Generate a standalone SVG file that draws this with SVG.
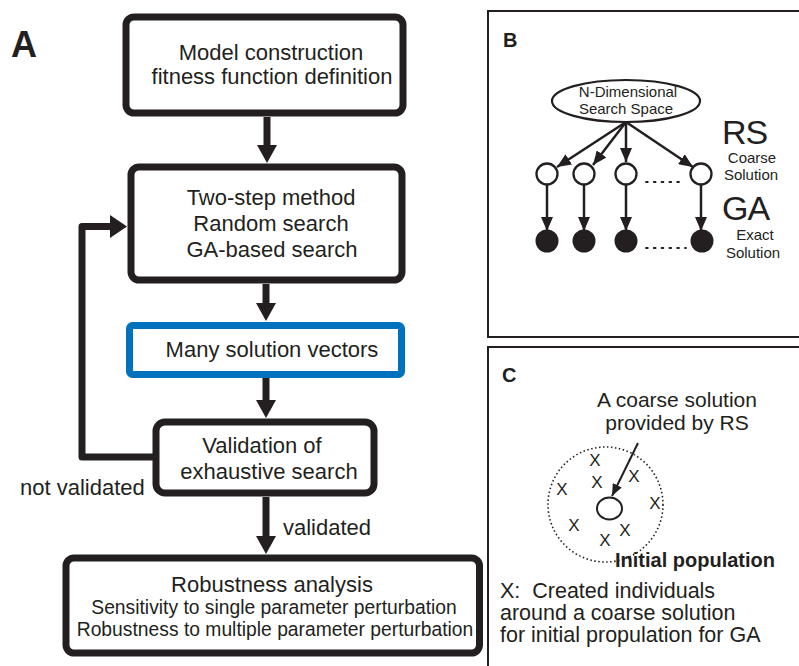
<svg xmlns="http://www.w3.org/2000/svg" width="799" height="666" viewBox="0 0 799 666">
<defs>
<style>
.box{fill:#fff;stroke:#231f20;stroke-width:7}
.blue{fill:#fff;stroke:#0071bc;stroke-width:7}
.t{font-family:"Liberation Sans",Arial,sans-serif;fill:#231f20;text-anchor:middle}
.tl{font-family:"Liberation Sans",Arial,sans-serif;fill:#231f20}
.b{font-weight:bold}
.shaft{stroke:#231f20;stroke-width:7;fill:none}
.head{fill:#231f20}
.thin{stroke:#231f20;stroke-width:2.5;fill:none}
.panel{fill:none;stroke:#231f20;stroke-width:2}
.dots{stroke:#231f20;stroke-width:1.8;stroke-dasharray:1.8 6;stroke-linecap:round;fill:none}
</style>
<marker id="ah" viewBox="0 0 14 12" refX="14" refY="6" markerWidth="14" markerHeight="12" markerUnits="userSpaceOnUse" orient="auto">
<path d="M0,0 L14,6 L0,12 z" fill="#231f20"/>
</marker>
<marker id="ahs" viewBox="0 0 12 10" refX="12" refY="5" markerWidth="12" markerHeight="10" markerUnits="userSpaceOnUse" orient="auto">
<path d="M0,0 L12,5 L0,10 z" fill="#231f20"/>
</marker>
</defs>
<rect width="799" height="666" fill="#fff"/>

<text class="tl b" x="11" y="57" font-size="36">A</text>

<g id="connectors">
<line class="shaft" x1="267" y1="117" x2="267" y2="147"/>
<polygon class="head" points="257,145 277,145 267,163"/>
<line class="shaft" x1="266" y1="284" x2="266" y2="305"/>
<polygon class="head" points="256,303 276,303 266,321"/>
<line class="shaft" x1="266" y1="378" x2="266" y2="402"/>
<polygon class="head" points="256,400 276,400 266,418"/>
<line class="shaft" x1="266" y1="497" x2="266" y2="538"/>
<polygon class="head" points="256,536 276,536 266,554"/>
<path class="shaft" d="M153,457 H82 V226.5 H112" stroke-linejoin="round"/>
<polygon class="head" points="110,215 110,238 127,226.5"/>
<text class="tl" x="20" y="495" font-size="22">not validated</text>
<text class="tl" x="283" y="535" font-size="22">validated</text>
</g>

<g id="model">
<rect class="box" x="126" y="17" width="277" height="96" rx="8"/>
<text class="t" x="271" y="60" font-size="22">Model construction</text>
<text class="t" x="272" y="84" font-size="22">fitness function definition</text>
</g>

<g id="twostep">
<rect class="box" x="131" y="167" width="271" height="113" rx="8"/>
<text class="t" x="271" y="205" font-size="22">Two-step method</text>
<text class="t" x="271" y="231" font-size="22">Random search</text>
<text class="t" x="272" y="257" font-size="22">GA-based search</text>
</g>

<g id="vectors">
<rect class="blue" x="129.5" y="325.5" width="272" height="49" rx="3"/>
<text class="t" x="272" y="357" font-size="22">Many solution vectors</text>
</g>

<g id="validation">
<rect class="box" x="156" y="422" width="218" height="71" rx="9"/>
<text class="t" x="262" y="453" font-size="22">Validation of</text>
<text class="t" x="269" y="479" font-size="22">exhaustive search</text>
</g>

<g id="robustness">
<rect class="box" x="66" y="558" width="413.5" height="95" rx="8"/>
<text class="t" x="272" y="592" font-size="22">Robustness analysis</text>
<text class="t" x="274" y="614" font-size="19.3">Sensitivity to single parameter perturbation</text>
<text class="t" x="275" y="636" font-size="19.3">Robustness to multiple parameter perturbation</text>
</g>

<g id="panelB">
<path class="panel" d="M805,11 H488 V337 H805"/>
<text class="tl b" x="503" y="47" font-size="20">B</text>
<g id="searchspace">
<ellipse cx="626" cy="101" rx="74" ry="21" fill="#fff" stroke="#231f20" stroke-width="2.2"/>
<text class="t" x="628" y="97" font-size="15">N-Dimensional</text>
<text class="t" x="626" y="114" font-size="15">Search Space</text>
</g>
<g id="b-arrows">
<line class="thin" x1="626" y1="122" x2="557" y2="167" marker-end="url(#ah)"/>
<line class="thin" x1="626" y1="122" x2="593" y2="165" marker-end="url(#ah)"/>
<line class="thin" x1="626" y1="122" x2="626" y2="162" marker-end="url(#ah)"/>
<line class="thin" x1="626" y1="122" x2="693" y2="167" marker-end="url(#ah)"/>
<line class="thin" x1="547" y1="185" x2="547" y2="231" marker-end="url(#ah)"/>
<line class="thin" x1="584" y1="185" x2="584" y2="231" marker-end="url(#ah)"/>
<line class="thin" x1="626" y1="185" x2="626" y2="231" marker-end="url(#ah)"/>
<line class="thin" x1="701" y1="185" x2="701" y2="231" marker-end="url(#ah)"/>
<line class="dots" x1="646" y1="182" x2="684" y2="182"/>
<line class="dots" x1="646" y1="248" x2="686" y2="248"/>
</g>
<g id="coarse">
<circle cx="547" cy="174" r="10.5" fill="#fff" stroke="#231f20" stroke-width="2.3"/>
<circle cx="584" cy="174" r="10.5" fill="#fff" stroke="#231f20" stroke-width="2.3"/>
<circle cx="626" cy="174" r="10.5" fill="#fff" stroke="#231f20" stroke-width="2.3"/>
<circle cx="701" cy="174" r="10.5" fill="#fff" stroke="#231f20" stroke-width="2.3"/>
</g>
<g id="exact">
<circle cx="547" cy="241" r="11.5" fill="#231f20"/>
<circle cx="584" cy="241" r="11.5" fill="#231f20"/>
<circle cx="626" cy="241" r="11.5" fill="#231f20"/>
<circle cx="702" cy="241" r="11.5" fill="#231f20"/>
</g>
<text class="tl" x="722" y="144" font-size="34" letter-spacing="-1">RS</text>
<text class="t" x="752" y="163" font-size="15">Coarse</text>
<text class="t" x="751" y="180" font-size="15">Solution</text>
<text class="tl" x="722" y="220" font-size="34" letter-spacing="-1">GA</text>
<text class="t" x="755" y="240" font-size="15">Exact</text>
<text class="t" x="753" y="258" font-size="15">Solution</text>
</g>

<g id="panelC">
<path class="panel" d="M805,347 H488 V670"/>
<text class="tl b" x="502" y="382" font-size="20">C</text>
<text class="t" x="677" y="407" font-size="21">A coarse solution</text>
<text class="t" x="677" y="430" font-size="21">provided by RS</text>
<circle cx="605.5" cy="504.5" r="57.5" fill="none" stroke="#231f20" stroke-width="1.6" stroke-dasharray="1.5 2.5"/>
<ellipse cx="609.5" cy="508.5" rx="12.5" ry="11" fill="none" stroke="#231f20" stroke-width="2"/>
<line x1="638" y1="443" x2="612" y2="496" stroke="#231f20" stroke-width="2" marker-end="url(#ahs)"/>
<g font-family="Liberation Sans, Arial, sans-serif" font-size="17" fill="#231f20" text-anchor="middle">
<text x="595" y="466">X</text>
<text x="597" y="488">X</text>
<text x="634" y="482">X</text>
<text x="562" y="495">X</text>
<text x="655" y="509">X</text>
<text x="574" y="531">X</text>
<text x="625" y="536">X</text>
<text x="605" y="546">X</text>
</g>
<text class="tl b" x="615" y="567" font-size="20">Initial population</text>
<text class="tl" x="500" y="598" font-size="21.5" xml:space="preserve">X:  Created individuals</text>
<text class="tl" x="500" y="620" font-size="21.5">around a coarse solution</text>
<text class="tl" x="500" y="642" font-size="21.5">for initial propulation for GA</text>
</g>
</svg>
